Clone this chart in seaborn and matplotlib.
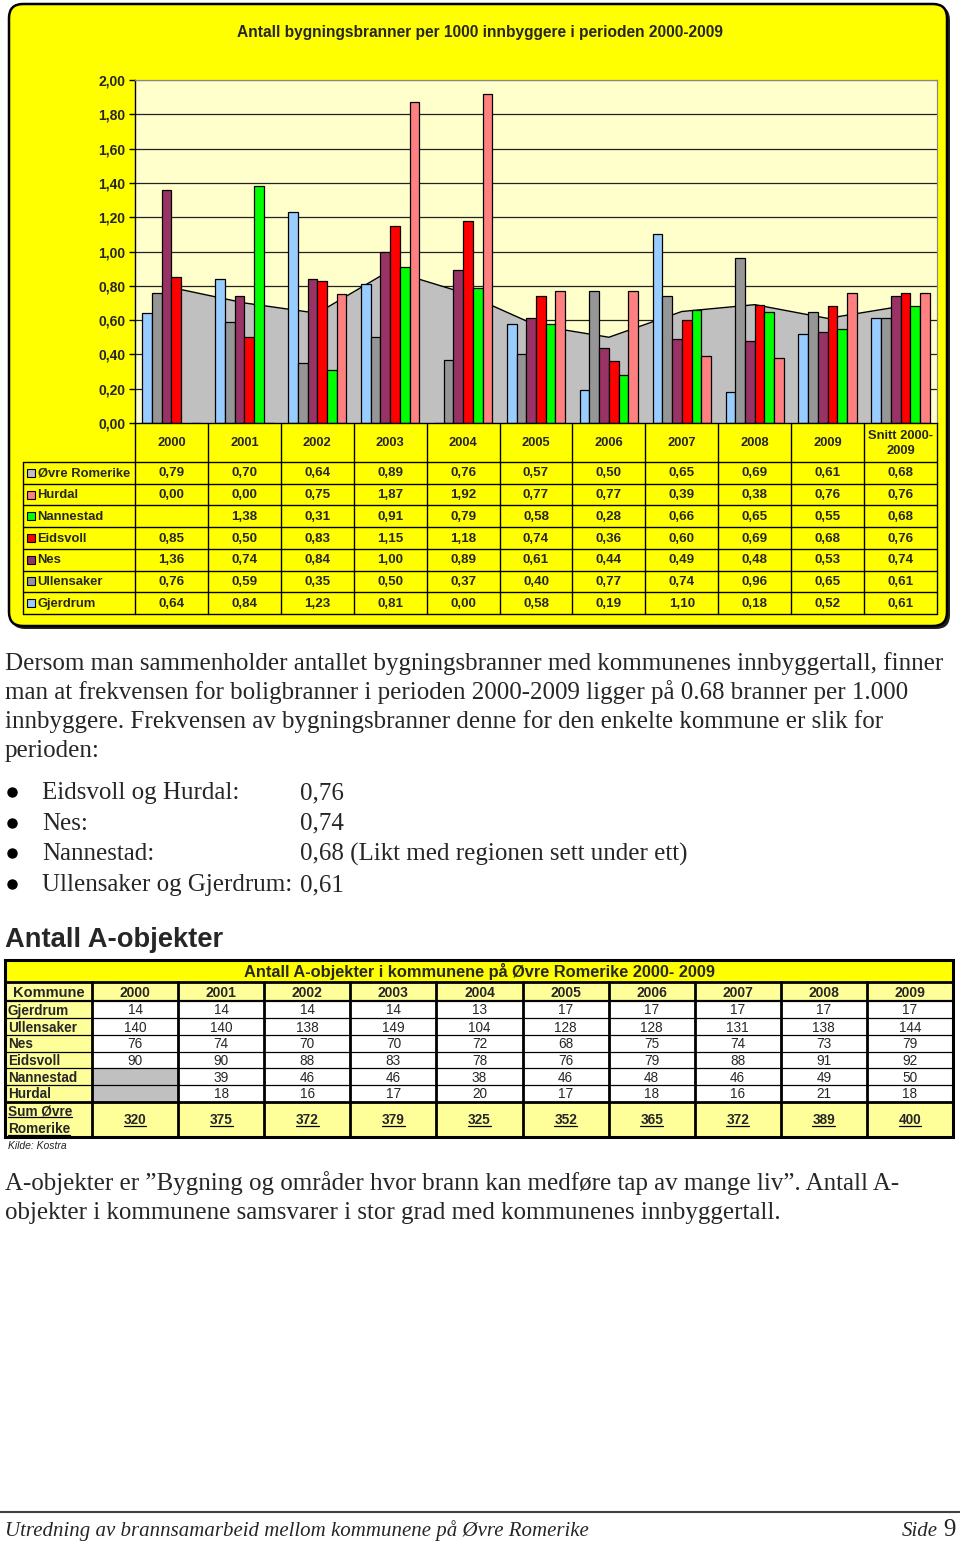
import numpy as np
import pandas as pd
import matplotlib
matplotlib.use("Agg")
import matplotlib.pyplot as plt
import seaborn as sns
from matplotlib.patches import FancyBboxPatch, Rectangle

# ---------------- data ----------------
categories = ['2000', '2001', '2002', '2003', '2004', '2005', '2006', '2007', '2008', '2009', 'Snitt 2000-2009']
ovre_romerike = [0.79, 0.70, 0.64, 0.89, 0.76, 0.57, 0.50, 0.65, 0.69, 0.61, 0.68]
hurdal = [0.00, 0.00, 0.75, 1.87, 1.92, 0.77, 0.77, 0.39, 0.38, 0.76, 0.76]
nannestad = [np.nan, 1.38, 0.31, 0.91, 0.79, 0.58, 0.28, 0.66, 0.65, 0.55, 0.68]
eidsvoll = [0.85, 0.50, 0.83, 1.15, 1.18, 0.74, 0.36, 0.60, 0.69, 0.68, 0.76]
nes = [1.36, 0.74, 0.84, 1.00, 0.89, 0.61, 0.44, 0.49, 0.48, 0.53, 0.74]
ullensaker = [0.76, 0.59, 0.35, 0.50, 0.37, 0.40, 0.77, 0.74, 0.96, 0.65, 0.61]
gjerdrum = [0.64, 0.84, 1.23, 0.81, 0.00, 0.58, 0.19, 1.10, 0.18, 0.52, 0.61]

bar_order = ['Gjerdrum', 'Ullensaker', 'Nes', 'Eidsvoll', 'Nannestad', 'Hurdal']
table_order = ['Øvre Romerike', 'Hurdal', 'Nannestad', 'Eidsvoll', 'Nes', 'Ullensaker', 'Gjerdrum']
series = {'Øvre Romerike': ovre_romerike, 'Hurdal': hurdal, 'Nannestad': nannestad,
          'Eidsvoll': eidsvoll, 'Nes': nes, 'Ullensaker': ullensaker, 'Gjerdrum': gjerdrum}
colors = {'Øvre Romerike': '#C0C0C0', 'Hurdal': '#FF8080', 'Nannestad': '#00FF00',
          'Eidsvoll': '#FF0000', 'Nes': '#993366', 'Ullensaker': '#969696', 'Gjerdrum': '#99CCFF'}

aobj_years = ['2000', '2001', '2002', '2003', '2004', '2005', '2006', '2007', '2008', '2009']
aobj_kommuner = ['Gjerdrum', 'Ullensaker', 'Nes', 'Eidsvoll', 'Nannestad', 'Hurdal']
aobj_gjerdrum = [14, 14, 14, 14, 13, 17, 17, 17, 17, 17]
aobj_ullensaker = [140, 140, 138, 149, 104, 128, 128, 131, 138, 144]
aobj_nes = [76, 74, 70, 70, 72, 68, 75, 74, 73, 79]
aobj_eidsvoll = [90, 90, 88, 83, 78, 76, 79, 88, 91, 92]
aobj_nannestad = [None, 39, 46, 46, 38, 46, 48, 46, 49, 50]
aobj_hurdal = [None, 18, 16, 17, 20, 17, 18, 16, 21, 18]
aobj_sum = [320, 375, 372, 379, 325, 352, 365, 372, 389, 400]
aobj_rows = [aobj_gjerdrum, aobj_ullensaker, aobj_nes, aobj_eidsvoll, aobj_nannestad, aobj_hurdal]

# ---------------- setup ----------------
sns.set_theme(style='white')
plt.rcParams['font.family'] = ['Liberation Sans', 'DejaVu Sans']
SERIF = ['Liberation Serif', 'DejaVu Serif']

W, H = 960, 1543
fig = plt.figure(figsize=(W / 100, H / 100), dpi=100)
fig.patch.set_facecolor('white')
bg = fig.add_axes([0, 0, 1, 1], zorder=0)
bg.set_xlim(0, W)
bg.set_ylim(H, 0)
bg.axis('off')

def fx(x):
    return x / W

def fy(y):
    return 1 - y / H

# ---------------- yellow chart box ----------------
bg.add_patch(FancyBboxPatch((11, 6), 939, 623, boxstyle='round,pad=0,rounding_size=14',
                            fc='#202020', ec='none', zorder=1))
bg.add_patch(FancyBboxPatch((9, 4), 938, 622, boxstyle='round,pad=0,rounding_size=14',
                            fc='#FFFF00', ec='black', lw=1.8, zorder=2))
bg.text(480, 32, 'Antall bygningsbranner per 1000 innbyggere i perioden 2000-2009',
        ha='center', va='center', fontsize=11.2, fontweight='bold', zorder=5)

# ---------------- bar chart ----------------
PX0, PX1, PY0, PY1 = 135, 937, 80, 423
ax = fig.add_axes([fx(PX0), fy(PY1), (PX1 - PX0) / W, (PY1 - PY0) / H], zorder=3)
ax.set_facecolor('#FFFFCC')

rows = []
for k in bar_order:
    for c, v in zip(categories, series[k]):
        rows.append({'year': c, 'kommune': k, 'value': v})
df = pd.DataFrame(rows)

sns.barplot(data=df, x='year', y='value', hue='kommune', order=categories, hue_order=bar_order,
            palette={k: colors[k] for k in bar_order}, saturation=1, width=0.8,
            edgecolor='black', linewidth=0.9, errorbar=None, legend=False, ax=ax, zorder=2)

xpos = np.arange(len(categories))
ax.fill_between(xpos, ovre_romerike, 0, color=colors['Øvre Romerike'], lw=0, zorder=0.8)
ax.plot(xpos, ovre_romerike, color='black', lw=1.0, zorder=0.9)

yt = np.round(np.arange(0, 2.01, 0.2), 2)
for v in yt[1:]:
    ax.axhline(v, color='#222222' if v < 2 else '#888888', lw=0.9, zorder=0.5)
ax.set_ylim(0, 2)
ax.set_xlim(-0.5, len(categories) - 0.5)
ax.set_yticks(yt)
ax.set_yticklabels([f'{v:.2f}'.replace('.', ',') for v in yt])
for lbl in ax.get_yticklabels():
    lbl.set_fontweight('bold')
ax.tick_params(axis='y', direction='out', length=4, width=1, color='black', labelsize=10, pad=3, left=True)
ax.tick_params(axis='x', bottom=False, labelbottom=False)
ax.set_xlabel('')
ax.set_ylabel('')
for s in ['top', 'right']:
    ax.spines[s].set_color('#888888')
    ax.spines[s].set_linewidth(0.9)
for s in ['left', 'bottom']:
    ax.spines[s].set_color('black')
    ax.spines[s].set_linewidth(1.0)

# ---------------- data table under chart ----------------
cw = (PX1 - PX0) / len(categories)
TY0, TY1, TY2 = PY1, 462, 614
rh = (TY2 - TY1) / len(table_order)
LX = 22.5
for i in range(len(categories) + 1):
    bg.plot([PX0 + i * cw] * 2, [TY0, TY2], color='black', lw=1.0, zorder=5)
bg.plot([LX, LX], [TY1, TY2], color='black', lw=1.0, zorder=5)
for j in range(len(table_order) + 1):
    bg.plot([LX, PX1], [TY1 + j * rh] * 2, color='black', lw=1.0, zorder=5)
for i, c in enumerate(categories):
    lab = 'Snitt 2000-\n2009' if c.startswith('Snitt') else c
    bg.text(PX0 + (i + 0.5) * cw, (TY0 + TY1) / 2 + 1, lab, ha='center', va='center',
            fontsize=9.3, fontweight='bold', linespacing=1.3, zorder=6)
for j, k in enumerate(table_order):
    yc = TY1 + (j + 0.5) * rh
    bg.add_patch(Rectangle((26.5, yc - 4), 8, 8, fc=colors[k], ec='black', lw=0.8, zorder=6))
    bg.text(37.5, yc + 0.5, k, ha='left', va='center', fontsize=9.4, fontweight='bold', zorder=6)
    for i, v in enumerate(series[k]):
        if v is None or (isinstance(v, float) and np.isnan(v)):
            continue
        bg.text(PX0 + (i + 0.5) * cw, yc + 0.5, f'{v:.2f}'.replace('.', ','), ha='center', va='center',
                fontsize=9.6, fontweight='bold', zorder=6)

# ---------------- body text ----------------
para1 = ['Dersom man sammenholder antallet bygningsbranner med kommunenes innbyggertall, finner',
         'man at frekvensen for boligbranner i perioden 2000-2009 ligger på 0.68 branner per 1.000',
         'innbyggere. Frekvensen av bygningsbranner denne for den enkelte kommune er slik for',
         'perioden:']
BODY = 18
for i, line in enumerate(para1):
    bg.text(5, 670 + i * 29, line, ha='left', va='baseline', fontsize=BODY, family=SERIF)

bullets = [('Eidsvoll og Hurdal:', '0,76'), ('Nes:', '0,74'),
           ('Nannestad:', '0,68 (Likt med regionen sett under ett)'), ('Ullensaker og Gjerdrum:', '0,61')]
for i, (a, b) in enumerate(bullets):
    yb = 799 + i * 30.7
    bg.plot([12], [yb - 7], marker='o', ms=6.5, color='black', mec='black')
    bg.text(42, yb, a, ha='left', va='baseline', fontsize=BODY, family=SERIF)
    bg.text(300, yb, b, ha='left', va='baseline', fontsize=BODY, family=SERIF)

bg.text(5, 947, 'Antall A-objekter', ha='left', va='baseline', fontsize=19.7, fontweight='bold')

# ---------------- A-objekter table ----------------
AX0, AX1, KC = 5, 953, 92
cw2 = (AX1 - KC) / len(aobj_years)
T0, T1, T2 = 960, 982, 1001
drow = [1001, 1018, 1035, 1052, 1068, 1085, 1102]
SB = 1137

bg.add_patch(Rectangle((AX0, T0), AX1 - AX0, T1 - T0, fc='#FFFF00', ec='none', zorder=3))
bg.add_patch(Rectangle((AX0, T1), AX1 - AX0, T2 - T1, fc='#FFFF99', ec='none', zorder=3))
bg.add_patch(Rectangle((AX0, T2), KC - AX0, drow[-1] - T2, fc='#FFFF99', ec='none', zorder=3))
bg.add_patch(Rectangle((KC, T2), AX1 - KC, drow[-1] - T2, fc='white', ec='none', zorder=3))
bg.add_patch(Rectangle((AX0, drow[-1]), AX1 - AX0, SB - drow[-1], fc='#FFFF99', ec='none', zorder=3))
for r, vals in enumerate(aobj_rows):
    for c, v in enumerate(vals):
        if v is None:
            bg.add_patch(Rectangle((KC + c * cw2, drow[r]), cw2, drow[r + 1] - drow[r],
                                   fc='#C0C0C0', ec='none', zorder=3.5))

bg.add_patch(Rectangle((AX0, T0), AX1 - AX0, SB - T0, fc='none', ec='black', lw=2.2, zorder=5))
bg.plot([AX0, AX1], [T1, T1], color='black', lw=2.0, zorder=5)
bg.plot([AX0, AX1], [T2, T2], color='black', lw=1.6, zorder=5)
for y in drow[1:-1]:
    bg.plot([AX0, AX1], [y, y], color='black', lw=0.9, zorder=5)
bg.plot([AX0, AX1], [drow[-1], drow[-1]], color='black', lw=2.0, zorder=5)
bg.plot([KC, KC], [T1, SB], color='black', lw=2.0, zorder=5)
for i in range(1, len(aobj_years)):
    bg.plot([KC + i * cw2] * 2, [T1, SB], color='black', lw=2.0, zorder=5)

bg.text((AX0 + AX1) / 2, (T0 + T1) / 2 + 1, 'Antall A-objekter i kommunene på Øvre Romerike 2000- 2009',
        ha='center', va='center', fontsize=11.8, fontweight='bold', zorder=6)
bg.text((AX0 + KC) / 2, (T1 + T2) / 2 + 1.5, 'Kommune', ha='center', va='center', fontsize=10.5,
        fontweight='bold', zorder=6)
for i, yv in enumerate(aobj_years):
    bg.text(KC + (i + 0.5) * cw2, (T1 + T2) / 2 + 1.5, yv, ha='center', va='center', fontsize=10,
            fontweight='bold', zorder=6)
for r, (k, vals) in enumerate(zip(aobj_kommuner, aobj_rows)):
    yc = (drow[r] + drow[r + 1]) / 2 + 1
    bg.text(8, yc, k, ha='left', va='center', fontsize=9.8, fontweight='bold', zorder=6)
    for c, v in enumerate(vals):
        if v is not None:
            bg.text(KC + (c + 0.5) * cw2, yc, str(v), ha='center', va='center', fontsize=9.8, zorder=6)

underlined = []
underlined.append(bg.text(8, 1111, 'Sum Øvre', ha='left', va='center', fontsize=9.8, fontweight='bold', zorder=6))
underlined.append(bg.text(8, 1129, 'Romerike', ha='left', va='center', fontsize=9.8, fontweight='bold', zorder=6))
for c, v in enumerate(aobj_sum):
    underlined.append(bg.text(KC + (c + 0.5) * cw2, 1120, str(v), ha='center', va='center',
                              fontsize=9.8, fontweight='bold', zorder=6))
bg.text(8, 1146, 'Kilde: Kostra', ha='left', va='center', fontsize=7.5, style='italic', color='#222222')

para2 = ['A-objekter er \u201dBygning og områder hvor brann kan medføre tap av mange liv\u201d. Antall A-',
         'objekter i kommunene samsvarer i stor grad med kommunenes innbyggertall.']
for i, line in enumerate(para2):
    bg.text(5, 1190 + i * 29, line, ha='left', va='baseline', fontsize=BODY, family=SERIF)

# ---------------- footer ----------------
bg.plot([0, W], [1512, 1512], color='#404040', lw=1.5)
bg.text(5, 1536, 'Utredning av brannsamarbeid mellom kommunene på Øvre Romerike', ha='left', va='baseline',
        fontsize=15, style='italic', family=SERIF)
bg.text(938, 1536, 'Side', ha='right', va='baseline', fontsize=15, style='italic', family=SERIF)
bg.text(956, 1536, '9', ha='right', va='baseline', fontsize=18, family=SERIF)

# underline helper
fig.canvas.draw()
rend = fig.canvas.get_renderer()
inv = bg.transData.inverted()
for t in underlined:
    bb = t.get_window_extent(rend)
    (x0, y0), (x1, y1) = inv.transform([[bb.x0, bb.y0], [bb.x1, bb.y1]])
    yl = max(y0, y1) - 1.5
    bg.plot([x0, x1], [yl, yl], color='black', lw=0.9, zorder=7)

fig.savefig('out.png', dpi=100, facecolor='white')
